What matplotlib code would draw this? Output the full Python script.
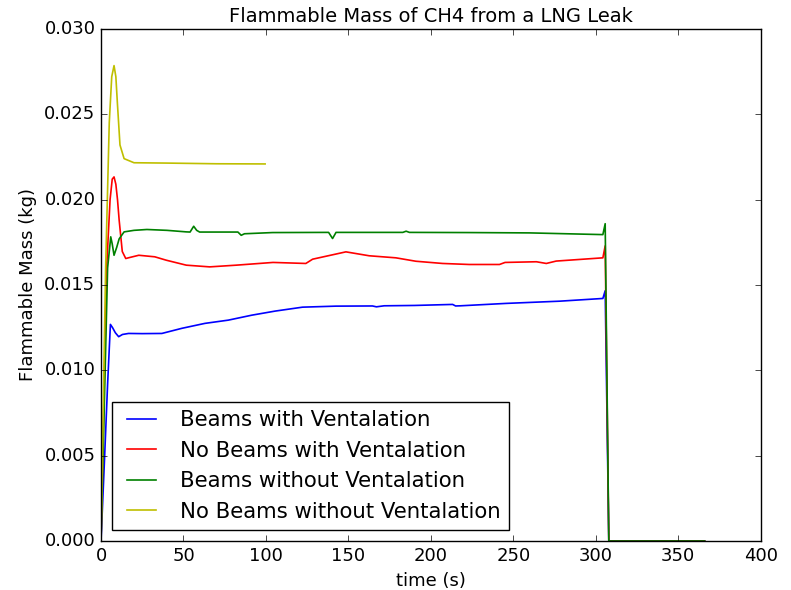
import matplotlib
matplotlib.use('Agg')
import matplotlib.pyplot as plt

# time (s) and flammable mass (kg)
t_blue = [0, 2, 4, 5.7, 7, 8.7, 10.7, 13, 16.7, 25, 36.9, 49, 63, 77.2, 91.4, 105.6,
          122.2, 142.4, 164.6, 167, 171.7, 190, 213.2, 215, 218, 245.6, 278, 304.3,
          305.7, 307.9, 366]
m_blue = [0, 0.0045, 0.0092, 0.01269, 0.0125, 0.0122, 0.01197, 0.0121, 0.01216, 0.01215,
          0.01216, 0.01246, 0.01275, 0.01294, 0.01323, 0.01347,
          0.0137, 0.01376, 0.01377, 0.01372, 0.01378, 0.0138, 0.01386, 0.01377, 0.01378,
          0.01392, 0.01405, 0.01421, 0.01466, 0, 0]

t_red = [0, 3.4, 5.5, 6.8, 7.9, 9, 10, 11, 12.9, 15, 17, 22.9, 32.6, 39.6, 51.7, 65.9, 82,
         104.3, 124.2, 128.3, 148.5, 162.6, 178.8, 190.9, 207.1, 223.3, 241.6, 245,
         264, 270, 276, 304.3, 305.7, 307.9, 366]
m_red = [0, 0.0160, 0.0200, 0.0212, 0.02133, 0.0209, 0.0200, 0.0188, 0.01696, 0.01655,
         0.0166, 0.01674, 0.01665, 0.01645, 0.01616, 0.01606, 0.01616,
         0.01632, 0.01626, 0.01651, 0.01694, 0.01671, 0.01659, 0.01639, 0.01626, 0.0162,
         0.0162, 0.01632, 0.01636, 0.01626, 0.0164, 0.01659, 0.01729, 0, 0]

t_green = [0, 2, 4, 5.9, 6.8, 7.9, 9.5, 11, 14, 20, 27.8, 40, 51.7, 54, 56.2, 58, 59.8,
           70, 83, 85, 87, 104, 138, 140.4, 142.5, 183, 185, 187, 223, 260, 304.3,
           305.7, 307.9, 366]
m_green = [0, 0.0080, 0.0160, 0.01782, 0.0174, 0.01674, 0.0172, 0.0177, 0.01811, 0.0182,
           0.01825, 0.0182, 0.01811, 0.0181, 0.01844, 0.0182, 0.0181,
           0.0181, 0.0181, 0.01791, 0.0180, 0.01807, 0.01808, 0.01772, 0.01808, 0.01808,
           0.01815, 0.01808, 0.01807, 0.01805, 0.01795, 0.01859, 0, 0]

t_yellow = [0, 2.8, 5, 6.5, 7.9, 9, 9.9, 11.5, 14, 20, 40, 70, 99.5]
m_yellow = [0, 0.0160, 0.0245, 0.0272, 0.02785, 0.0272, 0.0257, 0.0232, 0.0224, 0.02216,
            0.02214, 0.0221, 0.02209]

labels = ['Beams with Ventalation', 'No Beams with Ventalation',
          'Beams without Ventalation', 'No Beams without Ventalation']

plt.style.use('classic')
fig = plt.figure(figsize=(7.91, 5.9), dpi=100, facecolor='white')
ax = fig.add_axes([0.1277, 0.083, 0.834, 0.868])

ax.plot(t_blue, m_blue, 'b', lw=1.2, label=labels[0])
ax.plot(t_red, m_red, 'r', lw=1.2, label=labels[1])
ax.plot(t_green, m_green, 'g', lw=1.2, label=labels[2])
ax.plot(t_yellow, m_yellow, 'y', lw=1.2, label=labels[3])

ax.set_xlim(0, 400)
ax.set_ylim(0, 0.030)
ax.tick_params(labelsize=13)
ax.set_title('Flammable Mass of CH4 from a LNG Leak', fontsize=14)
ax.set_xlabel('time (s)', fontsize=13)
ax.set_ylabel('Flammable Mass (kg)', fontsize=13)
ax.legend(loc='lower left', fontsize=15.3)

fig.savefig('out.png', dpi=100, facecolor='white')
